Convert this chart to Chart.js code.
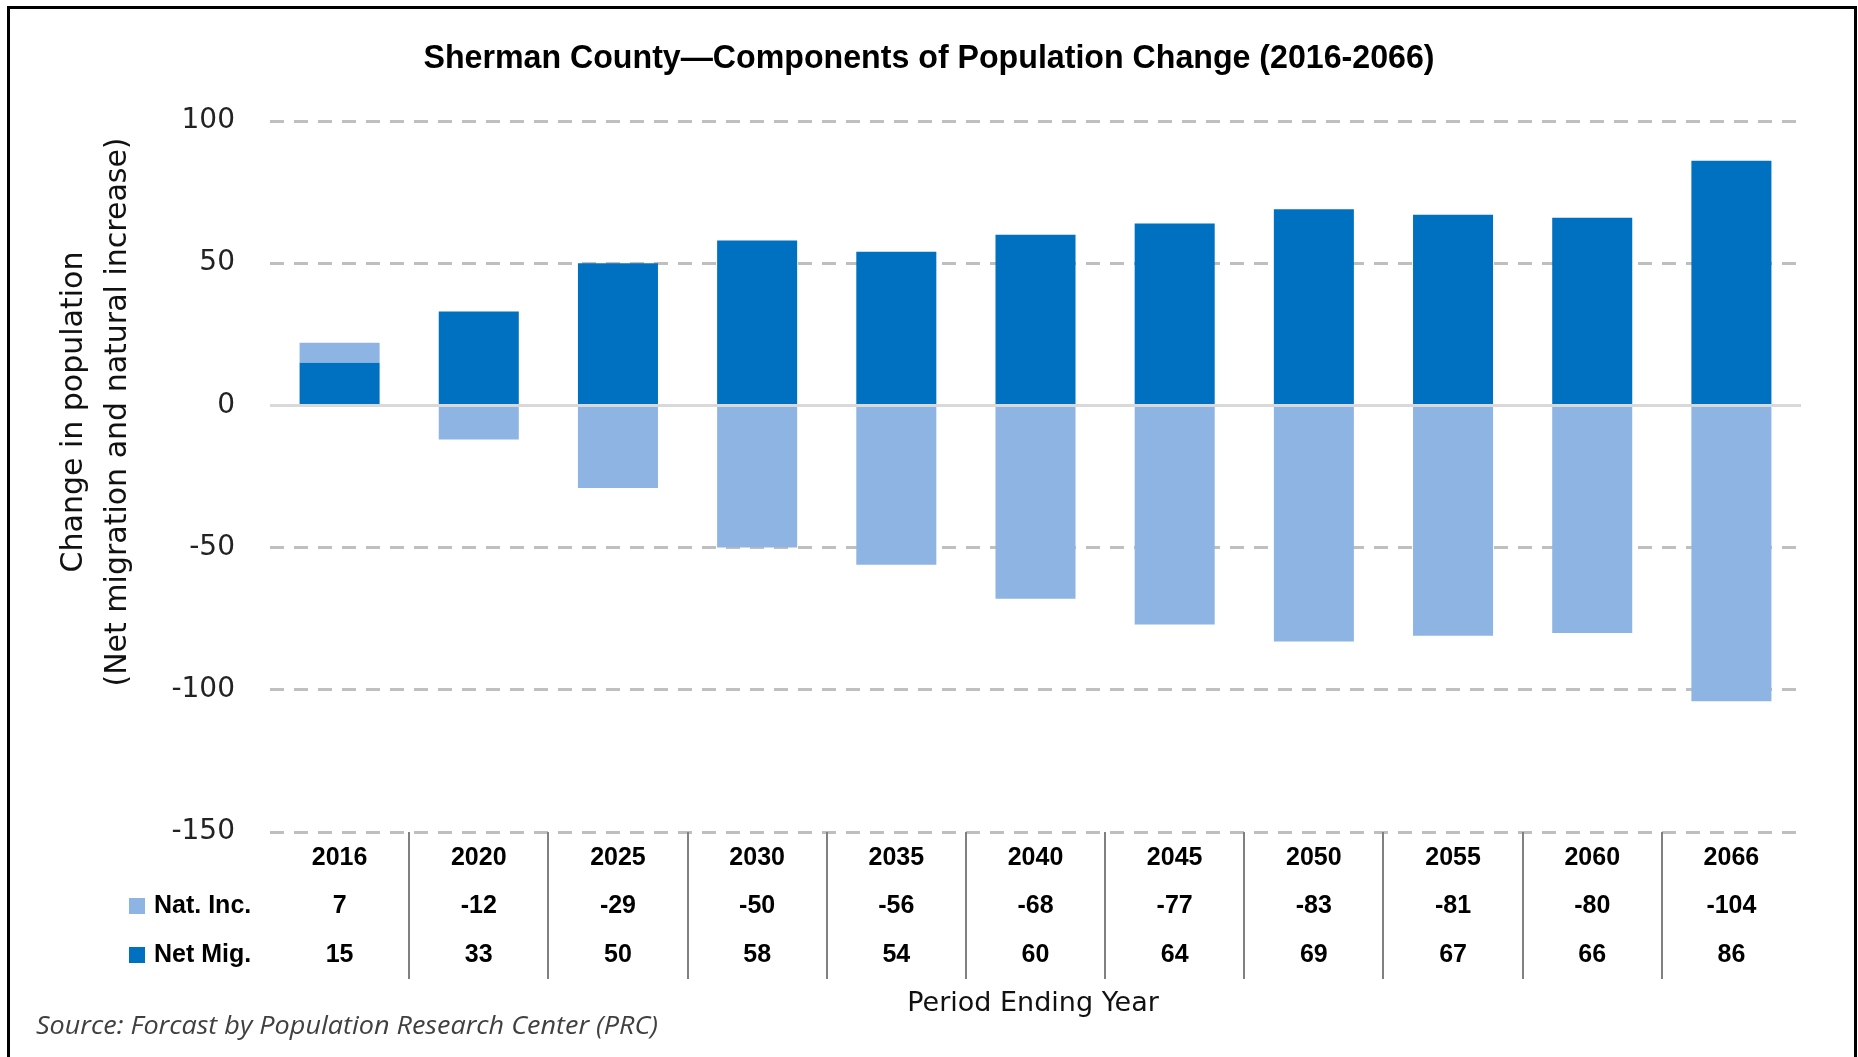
<!DOCTYPE html>
<html>
<head>
<meta charset="utf-8">
<title>Sherman County - Components of Population Change</title>
<script src="https://cdn.jsdelivr.net/npm/chart.js@4.4.1/dist/chart.umd.min.js"></script>
<style>
    html, body { margin: 0; padding: 0; background: #ffffff; }
    canvas { display: block; }
</style>
</head>
<body>
<canvas id="componentes" width="1858" height="1057"></canvas>
<script>
"use strict";
document.addEventListener("DOMContentLoaded", () => {
    const componentes = document.querySelector("#componentes");

    const periodos = ["2016", "2020", "2025", "2030", "2035", "2040", "2045", "2050", "2055", "2060", "2066"];

    // Series del grafico (el orden de la tabla es Nat. Inc. y luego Net Mig.)
    const series = {
        natInc: {
            label: "Nat. Inc.",
            color: "#8EB4E3",
            values: [7, -12, -29, -50, -56, -68, -77, -83, -81, -80, -104],
        },
        netMig: {
            label: "Net Mig.",
            color: "#0070C0",
            values: [15, 33, 50, 58, 54, 60, 64, 69, 67, 66, 86],
        },
    };

    const fuenteTabla = "bold 25px 'Liberation Sans'";
    const fuenteEje = "'DejaVu Sans'";

    /**
     * Dibuja un texto ajustado a un ancho, comprimiendolo en horizontal
     */
    function textoAjustado(ctx, texto, x, y, ancho, align) {
        const w = ctx.measureText(texto).width;
        const escala = ancho / w;
        ctx.save();
        ctx.translate(x, y);
        ctx.scale(escala, 1);
        ctx.textAlign = align;
        ctx.fillText(texto, 0, 0);
        ctx.restore();
    }

    const fondo = {
        id: "fondo",
        beforeDraw(chart) {
            const ctx = chart.ctx;
            ctx.save();
            ctx.fillStyle = "#ffffff";
            ctx.fillRect(0, 0, chart.width, chart.height);
            ctx.restore();
        },
    };

    const lineaCero = {
        id: "lineaCero",
        afterDatasetsDraw(chart) {
            const { ctx, chartArea, scales } = chart;
            const y0 = scales.y.getPixelForValue(0);
            ctx.save();
            ctx.strokeStyle = "#d9d9d9";
            ctx.lineWidth = 3;
            ctx.beginPath();
            ctx.moveTo(chartArea.left, y0);
            ctx.lineTo(chartArea.right, y0);
            ctx.stroke();
            ctx.restore();
        },
    };

    const tablaYTextos = {
        id: "tablaYTextos",
        afterDraw(chart) {
            const { ctx, chartArea, scales } = chart;
            const x = scales.x;
            const mitad = (x.getPixelForValue(1) - x.getPixelForValue(0)) / 2;

            ctx.save();

            // marco
            ctx.strokeStyle = "#000000";
            ctx.lineWidth = 3;
            ctx.beginPath();
            ctx.moveTo(8.5, chart.height + 5);
            ctx.lineTo(8.5, 7.5);
            ctx.lineTo(1855.5, 7.5);
            ctx.lineTo(1855.5, chart.height + 5);
            ctx.stroke();

            // titulo
            ctx.fillStyle = "#000000";
            ctx.textBaseline = "middle";
            ctx.font = "bold 33px 'Liberation Sans'";
            textoAjustado(ctx, "Sherman County\u2014Components of Population Change (2016-2066)", 929, 59, 1011, "center");

            // titulo eje y
            ctx.fillStyle = "#111111";
            ctx.font = "30px " + fuenteEje;
            ctx.textAlign = "center";
            ctx.textBaseline = "alphabetic";
            [["Change in population", 82], ["(Net migration and natural increase)", 126]].forEach(([texto, bx]) => {
                ctx.save();
                ctx.translate(bx, 412);
                ctx.rotate(-Math.PI / 2);
                ctx.fillText(texto, 0, 0);
                ctx.restore();
            });

            // titulo eje x
            ctx.font = "27px " + fuenteEje;
            ctx.textBaseline = "middle";
            ctx.fillText("Period Ending Year", 1033, 1004);

            // separadores de la tabla
            ctx.strokeStyle = "#808080";
            ctx.lineWidth = 2;
            for (let i = 1; i < periodos.length; i++) {
                const px = Math.round(x.getPixelForValue(i) - mitad);
                ctx.beginPath();
                ctx.moveTo(px, chartArea.bottom);
                ctx.lineTo(px, 979);
                ctx.stroke();
            }

            // filas de la tabla
            ctx.fillStyle = "#000000";
            ctx.font = fuenteTabla;
            ctx.textAlign = "center";
            periodos.forEach((anio, i) => {
                ctx.fillText(anio, x.getPixelForValue(i), 858);
            });

            const filas = [
                { serie: series.natInc, y: 906 },
                { serie: series.netMig, y: 955 },
            ];
            filas.forEach(({ serie, y }) => {
                ctx.fillStyle = serie.color;
                ctx.fillRect(129, y - 8, 16, 16);
                ctx.fillStyle = "#000000";
                ctx.textAlign = "left";
                ctx.fillText(serie.label, 154, y);
                ctx.textAlign = "center";
                serie.values.forEach((valor, i) => {
                    ctx.fillText(String(valor), x.getPixelForValue(i), y);
                });
            });

            // fuente
            ctx.fillStyle = "#404040";
            ctx.font = "italic 25px 'Open Sans'";
            textoAjustado(ctx, "Source: Forcast by Population Research Center (PRC)", 36, 1027, 622, "left");

            ctx.restore();
        },
    };

    const dataGrafica = {
        labels: periodos,
        datasets: [
            {
                label: series.netMig.label,
                data: series.netMig.values,
                backgroundColor: series.netMig.color,
            },
            {
                label: series.natInc.label,
                data: series.natInc.values,
                backgroundColor: series.natInc.color,
            },
        ],
    };

    Chart.defaults.font.family = "'DejaVu Sans'";
    Chart.defaults.color = "#222222";

    new Chart(componentes, {
        type: "bar",
        data: dataGrafica,
        plugins: [fondo, lineaCero, tablaYTextos],
        options: {
            responsive: false,
            animation: false,
            layout: {
                padding: { top: 121, bottom: 225, left: 0, right: 57 },
            },
            datasets: {
                bar: {
                    categoryPercentage: 1,
                    barPercentage: 0.575,
                    borderWidth: 0,
                },
            },
            plugins: {
                legend: { display: false },
                title: { display: false },
                tooltip: { enabled: false },
            },
            scales: {
                x: {
                    stacked: true,
                    ticks: { display: false },
                    grid: { display: false },
                    border: { display: false },
                    afterFit(scale) {
                        scale.height = 0;
                    },
                },
                y: {
                    stacked: true,
                    min: -150,
                    max: 100,
                    ticks: {
                        stepSize: 50,
                        padding: 35,
                        color: "#222222",
                        font: { size: 28 },
                    },
                    grid: {
                        drawTicks: false,
                        lineWidth: 3,
                        color: (ctx) => (ctx.tick && ctx.tick.value === 0 ? "rgba(0,0,0,0)" : "#bfbfbf"),
                    },
                    border: { display: false, dash: [14, 10] },
                    afterFit(scale) {
                        scale.width = 270;
                    },
                },
            },
        },
    });
});
</script>
</body>
</html>
